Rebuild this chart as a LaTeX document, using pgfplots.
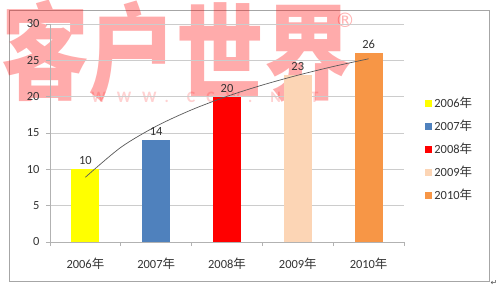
\documentclass[border=0pt]{standalone}
\usepackage{fontspec}
\setmainfont{Carlito}
\newfontfamily\cjk{Noto Sans CJK SC}
\newfontfamily\dejavu{DejaVu Sans}
\usepackage{pgfplots}
\pgfplotsset{compat=1.18}
\definecolor{cA}{HTML}{FFFF00}
\definecolor{cB}{HTML}{4F81BD}
\definecolor{cC}{HTML}{FF0000}
\definecolor{cD}{HTML}{FCD5B5}
\definecolor{cE}{HTML}{F79646}
\newcommand\nian{{\cjk 年}}
\newcommand\lf{\fontsize{12.5}{13}\selectfont}
\pgfplotsset{
  sq legend/.style={legend image code/.code={\fill[##1] (0bp,-3.5bp) rectangle (7bp,3.5bp);}},
  mybar/.style={ybar, bar width=28bp, bar shift=0pt, draw=none, fill=#1, sq legend,
     nodes near coords, every node near coord/.append style={font=\lf, text=black!80, yshift=1bp}},
}
\begin{document}
\begin{tikzpicture}
\path[use as bounding box] (0bp,0bp) rectangle (500bp,290bp);
\draw[gray!70, line width=0.8bp] (9bp,9bp) rectangle (489bp,280bp);
% watermark
\node[text=red, opacity=0.33, font=\cjk\bfseries\fontsize{88}{88}\selectfont, anchor=south west, inner sep=0pt, yscale=1.2, transform shape] at (1bp,187bp) {客户世界};
\node[text=red, opacity=0.3, font=\dejavu\fontsize{20}{20}\selectfont] at (345bp,270bp) {®};
\node[text=red, opacity=0.18, font=\bfseries\fontsize{16}{16}\selectfont] at (205bp,193bp) {W\hspace{11bp}W\hspace{11bp}W\hspace{8bp}.\hspace{18bp}C\hspace{11bp}C\hspace{11bp}W\hspace{8bp}.\hspace{18bp}N\hspace{11bp}E\hspace{11bp}T};
\begin{axis}[
  at={(50bp,48bp)}, anchor=south west,
  scale only axis, width=354bp, height=218bp,
  xmin=0.5, xmax=5.5, ymin=0, ymax=30,
  ytick={0,5,...,30},
  xtick={1,...,5},
  xticklabels={2006\nian,2007\nian,2008\nian,2009\nian,2010\nian},
  minor xtick={0.5,1.5,...,5.5},
  major x tick style={draw=none},
  minor x tick style={gray!60, line width=0.8bp},
  y tick style={gray!60, line width=0.8bp},
  tick align=outside,
  major tick length=4bp, minor tick length=4bp,
  axis x line*=bottom, axis y line*=left,
  axis line style={gray!60, line width=0.8bp, -},
  ymajorgrids, grid style={gray!40, line width=0.7bp},
  ticklabel style={font=\lf, text=black!80},
  xticklabel style={yshift=-8bp},
  yticklabel style={xshift=-3bp},
  /pgf/number format/assume math mode=true,
  legend style={draw=none, fill=none, at={(1.06,0.675)}, anchor=north west,
     font=\lf, text=black!80, row sep=7bp, inner sep=0pt},
  legend cell align=left,
  clip=false,
]
\addplot[mybar=cA] coordinates {(1,10)};
\addplot[mybar=cB] coordinates {(2,14)};
\addplot[mybar=cC] coordinates {(3,20)};
\addplot[mybar=cD] coordinates {(4,23)};
\addplot[mybar=cE] coordinates {(5,26)};
\legend{2006\nian,2007\nian,2008\nian,2009\nian,2010\nian}
\addplot[smooth, draw=black!65, line width=0.7bp, forget plot] coordinates {
 (1,8.91) (1.5,13.02) (2,15.93) (2.5,18.19) (3,20.04) (3.5,21.60) (4,22.95) (4.5,24.15) (5,25.21)};
\end{axis}
\node[font=\dejavu\fontsize{8}{8}\selectfont, text=black!70] at (494bp,7bp) {↵};
\end{tikzpicture}
\end{document}
